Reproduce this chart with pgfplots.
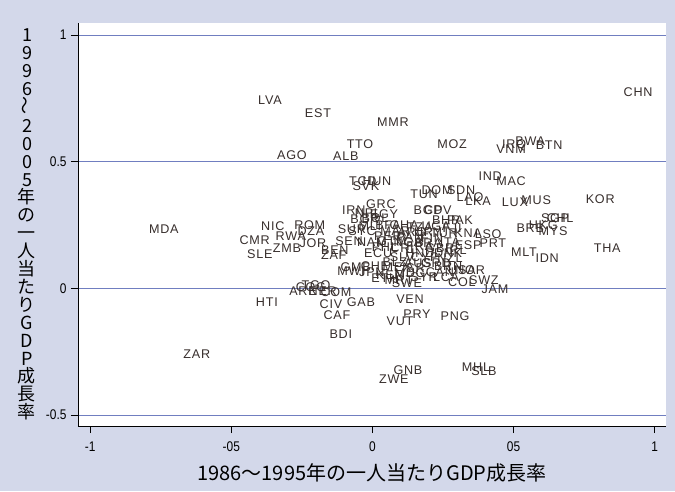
\documentclass[border=0pt]{standalone}
\usepackage{fontspec}
\setmainfont{Liberation Sans}
\newfontfamily\cjk{Noto Sans CJK JP}
\newfontfamily\narrow{Liberation Sans}[FakeStretch=0.85]
\newfontfamily\lab{Liberation Sans}[LetterSpace=6.0]
\usepackage{pgfplots}
\pgfplotsset{compat=1.18}
\definecolor{bgblue}{RGB}{211,216,234}
\definecolor{gridblue}{RGB}{112,126,192}
\definecolor{labcol}{RGB}{55,46,44}
\pgfdeclareplotmark{nothing}{}

\begin{document}
\begin{tikzpicture}
\fill[bgblue] (0,0) rectangle (675pt,491pt);
\begin{axis}[
  at={(78pt,65pt)}, anchor=south west, scale only axis,
  width=588pt, height=403pt,
  xmin=-1.043, xmax=1.04, ymin=-0.543, ymax=1.047,
  axis x line*=bottom, axis y line*=left,
  axis line style={black, line width=0.9pt},
  axis background/.style={fill=white},
  xtick={-1,-0.5,0,0.5,1}, xticklabels={-1,-05,0,05,1},
  ytick={-0.5,0,0.5,1}, yticklabels={-0.5,0,0.5,1},
  tick align=outside, major tick length=7pt,
  tick style={black, line width=0.8pt},
  ymajorgrids, grid style={gridblue, line width=0.8pt},
  tick label style={font=\narrow\fontsize{14}{14}\selectfont, text=black},
  xticklabel style={yshift=-5pt},
  yticklabel style={xshift=-1pt},
  xlabel={1986～1995年の一人当たりGDP成長率},
  xlabel style={at={(axis description cs:0.5,0)}, anchor=center, yshift=-47pt, font=\cjk\fontsize{20}{20}\selectfont},
  every axis y label/.style={at={(axis description cs:0,0.5)}, anchor=center, xshift=-51pt,
    align=center, font=\cjk\fontsize{18}{17.9}\selectfont},
  ylabel={1\\9\\9\\6\\\rotatebox{90}{～}\\2\\0\\0\\5\\年\\の\\一\\人\\当\\た\\り\\G\\D\\P\\成\\長\\率},
  clip=false,
]
\addplot[only marks, mark=nothing,
  nodes near coords, point meta=explicit symbolic,
  nodes near coords align={center},
  every node near coord/.append style={anchor=center, inner sep=0pt,
    font=\lab\fontsize{12.6}{12.6}\selectfont, text=labcol}]
table[meta=lab] {
x y lab
0.941 0.775 CHN
-0.363 0.743 LVA
-0.193 0.692 EST
0.073 0.656 MMR
-0.044 0.569 TTO
0.282 0.569 MOZ
-0.285 0.526 AGO
-0.094 0.522 ALB
0.491 0.549 VNM
0.502 0.565 IRQ
0.559 0.581 BWA
0.626 0.565 BTN
-0.034 0.423 TCD
0.016 0.423 HUN
-0.023 0.403 SVK
0.417 0.443 IND
0.491 0.423 MAC
0.229 0.387 DOM
0.314 0.387 SDN
0.183 0.372 TUN
0.346 0.360 LAO
0.374 0.344 LKA
0.505 0.340 LUX
0.580 0.348 MUS
0.807 0.352 KOR
0.030 0.332 GRC
-0.066 0.308 IRN
-0.016 0.296 NPL
0.041 0.292 EGY
0.197 0.308 BGD
0.232 0.308 CPV
0.647 0.277 SGP
0.665 0.277 CHL
0.559 0.237 BRB
0.605 0.249 HKG
0.640 0.225 MYS
0.832 0.158 THA
0.537 0.142 MLT
0.619 0.119 IDN
0.427 0.178 PRT
0.410 0.213 LSO
-0.739 0.233 MDA
-0.417 0.190 CMR
-0.353 0.245 NIC
-0.222 0.249 ROM
-0.289 0.206 RWA
-0.218 0.225 DZA
-0.303 0.158 ZMB
-0.399 0.134 SLE
-0.211 0.178 JOR
-0.073 0.233 SUR
-0.083 0.186 SEN
-0.133 0.150 BEN
-0.137 0.130 ZAF
0.020 0.138 ECU
-0.059 0.083 GMB
-0.076 0.067 MWI
-0.218 0.004 COG
-0.200 0.012 TGO
-0.246 -0.012 ARE
-0.176 -0.012 NER
-0.129 -0.016 COM
-0.374 -0.055 HTI
-0.147 -0.063 CIV
-0.041 -0.055 GAB
-0.126 -0.107 CAF
-0.112 -0.182 BDI
0.133 -0.043 VEN
0.098 -0.130 VUT
0.158 -0.103 PRY
0.293 -0.111 PNG
0.434 -0.004 JAM
0.317 0.024 COL
0.395 0.032 SWZ
0.183 0.043 SYR
0.094 0.032 MRT
0.062 0.051 KEN
-0.622 -0.261 ZAR
0.126 -0.324 GNB
0.076 -0.360 ZWE
0.367 -0.312 MHL
0.395 -0.328 SLB
0.009 0.277 BOL
-0.027 0.273 BGR
0.261 0.269 BHR
0.310 0.269 PAK
-0.009 0.245 MLI
0.055 0.249 BFA
0.112 0.249 GHA
0.168 0.241 TZA
0.225 0.245 UGA
0.282 0.237 FJI
-0.037 0.225 SYC
0.080 0.225 MAR
0.140 0.221 ARG
0.197 0.221 URY
0.254 0.217 TUR
0.339 0.217 KNA
0.055 0.206 PER
0.133 0.202 PAN
0.211 0.198 FIN
-0.002 0.182 NAM
0.069 0.186 GTM
0.126 0.182 NGA
0.197 0.178 BRA
0.275 0.182 ITA
0.339 0.170 ESP
0.044 0.162 PHL
0.105 0.158 CRI
0.168 0.166 FRA
0.239 0.158 GBR
0.296 0.150 IRL
0.168 0.138 HND
0.268 0.138 DNK
0.105 0.123 SLV
0.186 0.123 CYP
0.275 0.119 NZL
0.080 0.103 BLZ
0.161 0.099 AUS
0.225 0.099 GRD
0.268 0.087 BRN
0.009 0.087 CHE
0.087 0.083 MEX
0.145 0.079 ISR
0.317 0.071 USA
0.239 0.063 CAN
-0.002 0.063 JPN
0.133 0.059 MDG
0.044 0.040 ETH
0.261 0.043 LCA
0.346 0.071 NOR
0.122 0.020 SWE
};
\end{axis}
\pgfresetboundingbox
\path (0,0) rectangle (675pt,491pt);
\end{tikzpicture}
\end{document}
